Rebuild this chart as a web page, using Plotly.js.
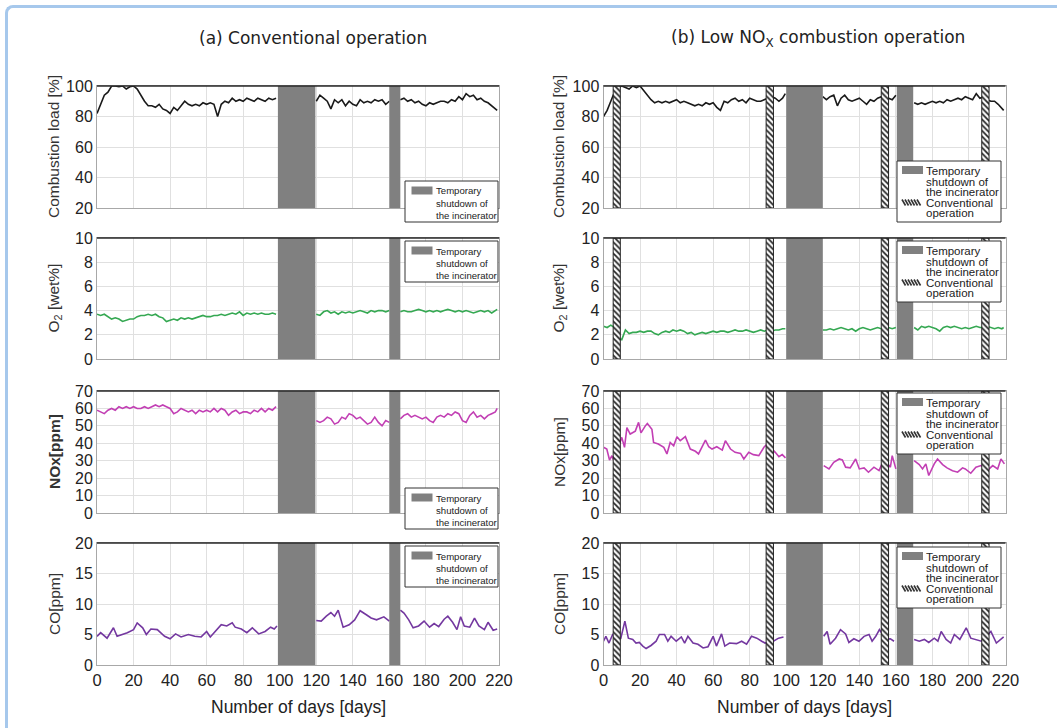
<!DOCTYPE html>
<html><head><meta charset="utf-8">
<script src="https://cdn.plot.ly/plotly-3.0.1.min.js"></script>
<style>
html,body{margin:0;padding:0;background:#fff;overflow:hidden;}
#frame{position:absolute;left:5px;top:5px;width:1070px;height:740px;border-top:3px solid #a6c8ec;border-left:3px solid #a6c8ec;border-top-left-radius:8px;box-sizing:border-box;}
#chart{position:absolute;left:0;top:0;width:1057px;height:728px;}
</style></head><body>
<div id="frame"></div>
<div id="chart"></div>
<script>
// ---------- data ----------
const daysA = [0,2,4,6,8,10,12,14,16,18,20,22,24,26,28,30,32,34,36,38,40,42,44,46,48,50,52,54,56,58,60,62,64,66,68,70,72,74,76,78,80,82,84,86,88,90,92,94,96,98,110,120,122,124,126,128,130,132,134,136,138,140,142,144,146,148,150,152,154,156,158,160,163,166,168,170,172,174,176,178,180,182,184,186,188,190,192,194,196,198,200,202,204,206,208,210,212,214,216,218,219];
const loadA = [82,88,94,96,100,100,99.5,100,98,99.5,100,98,94,90,87,87,86,88,85,84,82,86,84,87,90,88,87,88,87,89,88,89,88,80,88,90,89,92,90,91,90,92,91,90,92,91,90,92,91,92,null,
  90,94,92,90,85,91,89,91,87,90,88,87,91,89,90,89,91,90,91,88,90,null,
  91,92,90,91,89,90,88,87,89,88,89,90,90,89,91,90,93,91,95,93,94,91,92,90,89,87,85,84];
const o2A = [3.7,3.6,3.7,3.5,3.3,3.4,3.3,3.1,3.2,3.3,3.3,3.5,3.6,3.6,3.7,3.6,3.7,3.5,3.4,3.1,3.2,3.3,3.2,3.4,3.3,3.4,3.3,3.4,3.5,3.6,3.5,3.5,3.6,3.6,3.7,3.6,3.7,3.8,3.7,3.9,3.6,3.8,3.7,3.8,3.7,3.8,3.7,3.7,3.8,3.7,null,
  3.7,3.6,3.9,4.0,3.8,3.9,3.7,3.9,3.8,3.9,3.8,3.9,4.0,3.9,3.8,4.0,3.9,4.0,4.0,3.9,4.0,null,
  3.9,4.0,3.9,3.9,4.0,4.1,4.0,3.9,4.0,3.9,4.0,3.9,4.0,4.1,4.0,3.9,4.0,3.9,4.0,3.9,3.8,3.9,4.0,3.9,4.0,3.8,4.0,4.1];
const noxA = [59,58,57,59,60,59,61,60,61,60,61,60,60,61,60,61,62,61,62,61,60,57,58,60,59,58,59,57,59,58,59,58,60,58,60,59,56,58,59,57,58,58,57,59,58,60,58,60,59,61,null,
  53,52,53,55,54,51,52,55,54,57,56,54,55,53,51,52,55,52,50,53,52,null,
  54,56,57,55,56,55,54,55,53,52,55,56,55,57,56,58,57,53,52,56,58,55,56,54,56,57,58,60];
const coDaysA = [0,2,5.5,9,11,16.6,20,22,25,27,29.5,33,37,40,43,46,50,53.5,57,60,62,64.5,68,71,74,75.6,79,82,85,88.5,92,95,97,98.5,110,
  120,122.7,125.5,128,130,132,134.7,138,141,144,147.6,150,153,157,160,163,
  166,168,170.6,173,176,179,182,184.5,187,190,192,194.6,197,199,201,204,206.6,209,212,214,216.8,219];
const coA = [4.7,5.3,4.4,6.1,4.7,5.3,5.8,6.9,6.1,5.0,5.9,5.8,4.7,4.3,5.1,4.6,5.0,4.7,4.6,5.5,4.6,5.4,6.6,6.4,6.9,6.2,5.9,5.3,6.1,5.1,5.5,6.2,5.9,6.4,null,
  7.3,7.2,8.0,8.6,8.0,9.0,6.2,6.6,7.4,8.9,8.2,7.7,7.4,7.9,7.2,null,
  9.0,8.5,7.4,6.1,6.4,7.2,6.2,6.8,6.3,7.5,8.0,7.0,5.8,7.9,6.4,6.2,7.7,6.4,5.8,7.0,5.7,5.9];

const daysB = [0,2,4,6,8,10,12,14,16,18,20,22,24,26,28,30,32,34,36,38,40,42,44,46,48,50,52,54,56,58,60,62,64,66,68,70,72,74,76,78,80,82,84,86,88,90,92,94,96,98,99.5,110,120,122,124,126,128,130,132,134,136,138,140,142,144,146,148,150,152,154,156,158,160,165,170,172,174,176,178,180,182,184,186,188,190,192,194,196,198,200,202,204,206,208,210,212,214,216,218,219];
const loadB = [80,84,90,96,99,100,99,98,100,99,100,97,94,91,89,90,89,90,89,90,91,89,90,89,88,87,88,87,89,88,89,86,84,90,89,91,92,90,91,89,92,91,90,90,91,92,93,92,90,92,95,null,
  93,91,93,94,87,92,94,91,90,91,92,90,88,91,90,92,93,90,92,91,94,null,
  89,88,89,88,89,90,89,90,89,91,90,91,92,91,93,92,91,95,92,93,91,90,90,88,85,84];
const o2B = [2.7,2.6,2.8,2.6,1.7,1.6,2.4,2.1,2.2,2.2,2.3,2.2,2.3,2.3,2.1,2.0,2.2,2.3,2.2,2.4,2.3,2.4,2.3,2.1,2.2,2.0,2.1,2.2,2.1,2.2,2.3,2.2,2.3,2.3,2.2,2.3,2.4,2.3,2.3,2.4,2.3,2.2,2.3,2.4,2.3,2.4,2.3,2.4,2.4,2.5,2.5,null,
  2.4,2.4,2.5,2.4,2.5,2.6,2.5,2.4,2.5,2.3,2.5,2.6,2.5,2.4,2.5,2.6,2.5,2.5,2.6,2.5,2.6,null,
  2.6,2.4,2.7,2.6,2.7,2.6,2.5,2.3,2.6,2.7,2.6,2.7,2.6,2.5,2.6,2.5,2.6,2.7,2.6,2.6,2.7,2.6,2.5,2.6,2.5,2.6];
const noxDaysB = [0,1.8,3.3,4.6,5.5,10,11.5,12.8,14.6,17.4,19.2,20.5,22.9,24,26.5,27.4,30,33,34.7,36.5,38.4,40.2,42,44.8,47.5,50.3,52,54,55.8,57.6,59.4,62,65,66.7,69.5,72,75,76.8,79.5,82,85,87.8,89.6,94,96,97.8,99.6,110,
  120.5,123.4,126,129,130.7,132.5,135,138,140,142.6,145,148,150.8,153.6,157,158,160,165,
  170,172.8,174.6,176.4,178,181,182.8,185.6,188,191,193.8,196.5,198,201,203.8,206.6,210,213,215.7,217.5,219.4];
const noxB = [37.7,36.7,30.4,32.9,30.4,43.4,37.7,49,45.3,47,52,46,50,51.4,48,40.5,39.6,37.7,33.9,40.5,38.6,43.8,41.5,43.8,36.7,35.4,33.9,37.7,41.8,38,36.7,38,36.1,41.5,36.7,34.8,34.2,31,34.8,33.5,32.9,37.7,39.6,34.8,32.3,33.5,31.6,null,
  27.2,25.3,29.1,31,30.4,26.3,25.9,31,25.3,25.9,23.4,26.3,24.3,31,26.3,32.9,25.3,null,
  30,27.8,25.3,28.2,21.5,28.2,31,27.8,25.9,24.3,23.4,25.9,25.3,22.8,26.3,27.2,24.3,27.2,25.3,31,28.2];
const coDaysB = [0,1.3,3,5,9.5,11.7,13.6,16,17.8,19.6,21.5,23.3,26,28.8,30.6,33.4,35.2,37,39.8,42.6,44.4,46.2,49,51.7,54.5,57.2,60,61.8,64.6,66.4,69,72.8,75.6,78.3,81,83.9,86.6,88.4,93,95.8,98.5,110,
  120.5,122.4,124,127,129.7,132.5,134.3,137,139.8,142.6,145.3,147,149,151,154.5,157,159,165,
  170,172.8,175.6,178,181,183,184.8,187.5,190,192,195,198.5,201,204,206.8,209.5,212,215,217.8,219];
const coB = [3.9,4.7,3.6,5.0,4.4,7.2,4.4,4.2,3.6,3.7,3.1,2.7,3.2,3.9,5.0,5.0,3.9,4.7,3.9,4.6,3.6,4.7,3.6,3.4,2.8,3.0,4.7,3.1,5.1,3.1,3.6,3.5,3.9,3.4,4.7,4.4,3.9,3.6,3.9,4.4,4.6,null,
  4.7,5.5,3.4,4.4,5.8,5.1,3.7,4.3,3.9,4.7,5.0,3.9,4.7,5.8,4.2,4.3,3.9,null,
  4.2,3.9,4.2,3.7,4.4,3.9,5.5,4.2,3.6,5.0,4.2,6.1,4.4,4.2,3.9,4.7,5.5,3.6,4.2,4.6];

const shutStartA = [99, 160];
const shutEndA   = [119.5, 166];
const shutStartB = [100, 160.5];
const shutEndB   = [120, 169.5];
const convStartB = [5.3, 89, 152, 207];
const convEndB   = [9.2, 93, 156, 211];

const dayRange = [0, 220];
const yRanges = [[20,100],[0,10],[0,70],[0,20]];
const yDticks = [20, 2, 10, 5];
const panelTitles = ['(a) Conventional operation', '(b) Low NO<sub>X</sub> combustion operation'];
const yTitlesA = ['Combustion load [%]', 'O<sub>2</sub> [wet%]', '<b>NOx[ppm]</b>', 'CO[ppm]'];
const yTitlesB = ['Combustion load [%]', 'O<sub>2</sub> [wet%]', 'NOx[ppm]', 'CO[ppm]'];
const xTitle = 'Number of days [days]';
const shutLines = ['Temporary', 'shutdown of', 'the incinerator'];
const convLines = ['Conventional', 'operation'];

const seriesA = [[daysA, loadA], [daysA, o2A], [daysA, noxA], [coDaysA, coA]];
const seriesB = [[daysB, loadB], [daysB, o2B], [noxDaysB, noxB], [coDaysB, coB]];
const lineColors = ['#1a1a1a', '#35a852', '#c23fb4', '#7438a0'];

// ---------- layout geometry ----------
const W = 1057, H = 728;
const P = px => px / W, Q = py => 1 - py / H;
const colX = [[97, 499], [603.5, 1005.5]];
const rowY = [[86, 208], [238, 359], [391, 513], [543, 665]];
const legTopA = [181, 241, 488, 546];
const legTopB = [161, 241, 393, 547];
const legLeft = [405, 897];

function rects(starts, ends, lo, hi) {
  const x = [], y = [];
  starts.forEach((s, i) => {
    x.push(s, ends[i], ends[i], s, s, null);
    y.push(lo, lo, hi, hi, lo, null);
  });
  return {x, y};
}
const id = (p, k) => k === 1 ? p : p + k;
const SANS = 'Liberation Sans, Arial, sans-serif';
const tickFontY = {family: SANS, size: 16, color: '#222'};
const tickFontX = {family: SANS, size: 16.5, color: '#222'};

const data = [];
const layout = {
  width: W, height: H,
  margin: {l: 0, r: 0, t: 0, b: 0},
  paper_bgcolor: 'rgba(0,0,0,0)', plot_bgcolor: '#fff',
  showlegend: false,
  annotations: [], shapes: []
};

function pxRect(x0, y0, x1, y1, fill, lineColor, lw) {
  layout.shapes.push({type: 'rect', xref: 'paper', yref: 'paper', layer: 'above',
    x0: P(x0), x1: P(x1), y0: Q(y1), y1: Q(y0), fillcolor: fill,
    line: {color: lineColor, width: lw}});
}
function pxText(txt, x, y, font) {
  layout.annotations.push({text: txt, xref: 'paper', yref: 'paper', x: P(x), y: Q(y),
    xanchor: 'left', yanchor: 'middle', showarrow: false, borderpad: 0, font: font});
}
function hatchSwatch(x0, y0, x1, y1) {
  const n = 6, step = (x1 - x0 - 3) / n;
  for (let i = 0; i < n; i++) {
    const xs = x0 + i * step;
    layout.shapes.push({type: 'line', xref: 'paper', yref: 'paper', layer: 'above',
      x0: P(xs), y0: Q(y0), x1: P(xs + 3.5), y1: Q(y1), line: {color: '#333', width: 1.6}});
  }
}
function legendA(top) {
  const l = legLeft[0];
  pxRect(l, top, l + 93, top + 41, '#ffffff', '#333', 1);
  pxRect(l + 6.5, top + 5.5, l + 27.5, top + 13.5, '#808080', 'rgba(0,0,0,0)', 0);
  const f = {family: SANS, size: 9.6, color: '#222'};
  [10, 22.3, 34.5].forEach((c, i) => pxText(shutLines[i], l + 29.5, top + c, f));
}
function legendB(top) {
  const l = legLeft[1];
  pxRect(l, top, l + 104, top + 61, '#ffffff', '#333', 1);
  pxRect(l + 5, top + 5, l + 26, top + 13, '#808080', 'rgba(0,0,0,0)', 0);
  hatchSwatch(l + 5, top + 38.5, l + 26, top + 44.5);
  const f = {family: SANS, size: 11.5, color: '#222'};
  [9.7, 20.5, 31, 41.8, 52.3].forEach((c, i) =>
    pxText(i < 3 ? shutLines[i] : convLines[i - 3], l + 27.5, top + c, f));
}

for (let c = 0; c < 2; c++) {
  for (let r = 0; r < 4; r++) {
    const k = c * 4 + r + 1;
    const xa = id('x', k), ya = id('y', k);
    const [lo, hi] = yRanges[r];
    layout[id('xaxis', k)] = {
      domain: [P(colX[c][0]), P(colX[c][1])], range: dayRange, dtick: 20, tick0: 0,
      anchor: ya, showgrid: true, gridcolor: '#e0e0e0', gridwidth: 1,
      showline: true, linecolor: '#a8a8a8', mirror: true, zeroline: false,
      showticklabels: r === 3, ticks: '', tickfont: tickFontX, fixedrange: true
    };
    layout[id('yaxis', k)] = {
      domain: [Q(rowY[r][1]), Q(rowY[r][0])], range: [lo, hi], dtick: yDticks[r], tick0: 0,
      anchor: xa, showgrid: true, gridcolor: '#e0e0e0', gridwidth: 1,
      showline: true, linecolor: '#a8a8a8', mirror: true, zeroline: false,
      ticks: '', tickfont: tickFontY, fixedrange: true
    };
    layout.shapes.push({type: 'line', xref: xa + ' domain', yref: ya + ' domain',
      x0: 0, x1: 1, y0: 1, y1: 1, line: {color: '#2a2a2a', width: 1.5}, layer: 'above'});

    const ser = c === 0 ? seriesA[r] : seriesB[r];
    data.push({type: 'scatter', mode: 'lines', x: ser[0], y: ser[1], xaxis: xa, yaxis: ya,
      line: {color: lineColors[r], width: 1.6}, connectgaps: false, showlegend: false, hoverinfo: 'skip'});

    const sr = c === 0 ? rects(shutStartA, shutEndA, lo, hi) : rects(shutStartB, shutEndB, lo, hi);
    data.push({type: 'scatter', mode: 'lines', x: sr.x, y: sr.y, xaxis: xa, yaxis: ya,
      fill: 'toself', fillcolor: '#808080', line: {color: '#808080', width: 0},
      name: 'Temporary shutdown of the incinerator', showlegend: false, hoverinfo: 'skip'});
    if (c === 1) {
      const hr = rects(convStartB, convEndB, lo, hi);
      data.push({type: 'scatter', mode: 'lines', x: hr.x, y: hr.y, xaxis: xa, yaxis: ya,
        fill: 'toself', fillcolor: '#ffffff',
        fillpattern: {shape: '\\', fgcolor: '#222', bgcolor: '#ffffff', size: 4, solidity: 0.45},
        line: {color: '#222', width: 1},
        name: 'Conventional operation', showlegend: false, hoverinfo: 'skip'});
    }
    if (c === 0) legendA(legTopA[r]); else legendB(legTopB[r]);

    const yt = c === 0 ? yTitlesA[r] : yTitlesB[r];
    layout.annotations.push({text: yt, xref: 'paper', yref: 'paper',
      x: P(c === 0 ? 54 : 559), y: Q((rowY[r][0] + rowY[r][1]) / 2), textangle: -90,
      xanchor: 'center', yanchor: 'middle', showarrow: false,
      font: {family: SANS, size: 15.5, color: '#333'}});
  }
}
const TITLEF = {family: 'DejaVu Sans, Liberation Sans, sans-serif', size: 17, color: '#222'};
layout.annotations.push(
  {text: panelTitles[0], xref: 'paper', yref: 'paper', x: P(313), y: Q(38), showarrow: false,
   xanchor: 'center', yanchor: 'middle', font: TITLEF},
  {text: panelTitles[1], xref: 'paper', yref: 'paper', x: P(818), y: Q(38), showarrow: false,
   xanchor: 'center', yanchor: 'middle', font: TITLEF},
  {text: xTitle, xref: 'paper', yref: 'paper', x: P(298), y: Q(707), showarrow: false,
   xanchor: 'center', yanchor: 'middle', font: {family: SANS, size: 17.5, color: '#222'}},
  {text: xTitle, xref: 'paper', yref: 'paper', x: P(804), y: Q(707), showarrow: false,
   xanchor: 'center', yanchor: 'middle', font: {family: SANS, size: 17.5, color: '#222'}}
);

Plotly.newPlot('chart', data, layout, {staticPlot: true, displayModeBar: false});
</script></body></html>
